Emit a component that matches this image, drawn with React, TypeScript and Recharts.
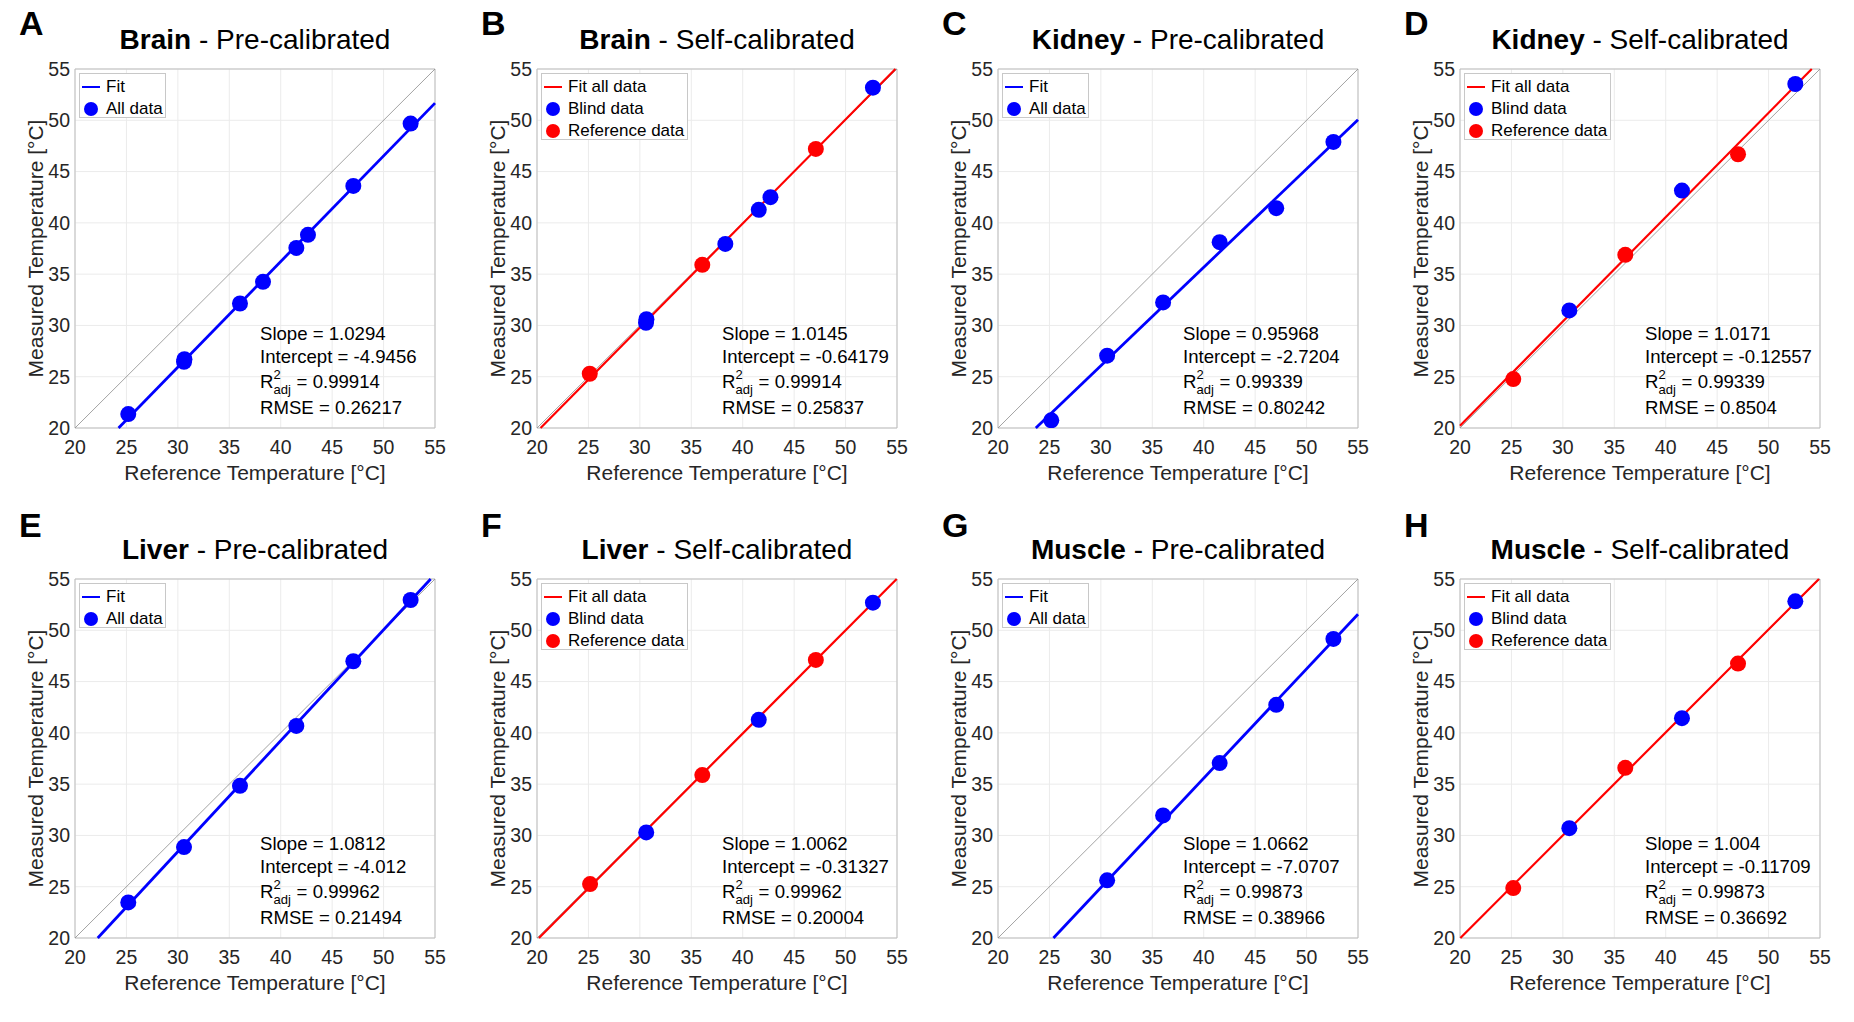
import { ScatterChart, Scatter, XAxis, YAxis, CartesianGrid, ReferenceLine, ReferenceArea } from 'recharts';

const BLUE = '#0000ff';
const RED = '#ff0000';
const FONT = '"Liberation Sans", Arial, Helvetica, sans-serif';
const AXIS_TEXT = '#262626';

const ticks = [20, 25, 30, 35, 40, 45, 50, 55];

// Brain
const brainPreX = [25.18, 30.6, 30.64, 36.04, 38.28, 41.52, 42.65, 47.06, 52.63];
const brainPreY = [21.36, 26.45, 26.7, 32.14, 34.25, 37.56, 38.83, 43.6, 49.68];
const brainBlindX = [30.6, 30.64, 38.31, 41.56, 42.7, 52.66];
const brainBlindY = [30.25, 30.6, 37.95, 41.27, 42.5, 53.18];
const brainRefX = [25.13, 36.07, 47.11];
const brainRefY = [25.29, 35.91, 47.21];
const brainPreFit = { slope: 1.0294, intercept: -4.9456, r2: 0.99914, rmse: 0.26217 };
const brainSelfFit = { slope: 1.0145, intercept: -0.64179, r2: 0.99914, rmse: 0.25837 };

// Kidney
const kidneyPreX = [25.18, 30.61, 36.05, 41.55, 47.05, 52.61];
const kidneyPreY = [20.75, 27.05, 32.24, 38.12, 41.43, 47.89];
const kidneyBlindX = [30.63, 41.58, 52.6];
const kidneyBlindY = [31.46, 43.15, 53.54];
const kidneyRefX = [25.18, 36.07, 47.03];
const kidneyRefY = [24.77, 36.88, 46.69];
const kidneyPreFit = { slope: 0.95968, intercept: -2.7204, r2: 0.99339, rmse: 0.80242 };
const kidneySelfFit = { slope: 1.0171, intercept: -0.12557, r2: 0.99339, rmse: 0.8504 };

// Liver
const liverPreX = [25.18, 30.6, 36.04, 41.52, 47.06, 52.63];
const liverPreY = [23.47, 28.86, 34.84, 40.68, 46.98, 52.95];
const liverBlindX = [30.62, 41.56, 52.66];
const liverBlindY = [30.29, 41.27, 52.69];
const liverRefX = [25.16, 36.07, 47.11];
const liverRefY = [25.26, 35.88, 47.11];
const liverPreFit = { slope: 1.0812, intercept: -4.012, r2: 0.99962, rmse: 0.21494 };
const liverSelfFit = { slope: 1.0062, intercept: -0.31327, r2: 0.99962, rmse: 0.20004 };

// Muscle
const musclePreX = [30.61, 36.05, 41.55, 47.05, 52.61];
const musclePreY = [25.62, 31.95, 37.05, 42.73, 49.16];
const muscleBlindX = [30.63, 41.58, 52.6];
const muscleBlindY = [30.71, 41.43, 52.82];
const muscleRefX = [25.18, 36.07, 47.03];
const muscleRefY = [24.87, 36.59, 46.75];
const musclePreFit = { slope: 1.0662, intercept: -7.0707, r2: 0.99873, rmse: 0.38966 };
const muscleSelfFit = { slope: 1.004, intercept: -0.11709, r2: 0.99873, rmse: 0.36692 };

type Fit = { slope: number; intercept: number; r2: number; rmse: number };
type Series = { x: number[]; y: number[]; color: string };
type LegendItem = { label: string; color: string; kind: 'line' | 'dot' };

// panel geometry
const W = 462;
const H = 505;
const PL = 75;
const PT = 69;
const PW = 360;
const PH = 359;

const toPoints = (x: number[], y: number[]) => x.map((v, i) => ({ x: v, y: y[i] }));

// clip y = m*x + b to the [20, 55] box
const fitSegment = (m: number, b: number) => {
  const x0 = Math.max(20, (20 - b) / m);
  const x1 = Math.min(55, (55 - b) / m);
  return [
    { x: x0, y: m * x0 + b },
    { x: x1, y: m * x1 + b },
  ];
};

const preLegend: LegendItem[] = [
  { label: 'Fit', color: BLUE, kind: 'line' },
  { label: 'All data', color: BLUE, kind: 'dot' },
];
const selfLegend: LegendItem[] = [
  { label: 'Fit all data', color: RED, kind: 'line' },
  { label: 'Blind data', color: BLUE, kind: 'dot' },
  { label: 'Reference data', color: RED, kind: 'dot' },
];

const Legend = ({ items, width }: { items: LegendItem[]; width: number }) => (
  <div
    style={{
      position: 'absolute',
      left: PL + 4,
      top: PT + 4,
      width,
      height: items.length * 22 + 1,
      border: '1px solid #c8c8c8',
      background: '#fff',
      boxSizing: 'border-box',
    }}
  >
    {items.map((it, i) => (
      <div
        key={it.label}
        style={{
          position: 'absolute',
          left: 0,
          top: 1.5 + 22 * i,
          height: 22,
          display: 'flex',
          alignItems: 'center',
          fontSize: 17,
          lineHeight: '22px',
          color: '#000',
          whiteSpace: 'nowrap',
        }}
      >
        <div style={{ width: 26, position: 'relative', height: 22 }}>
          {it.kind === 'line' ? (
            <div style={{ position: 'absolute', left: 2, top: 10, width: 18, height: 2.5, background: it.color }} />
          ) : (
            <div
              style={{ position: 'absolute', left: 4, top: 4, width: 14, height: 14, borderRadius: 7, background: it.color }}
            />
          )}
        </div>
        <span>{it.label}</span>
      </div>
    ))}
  </div>
);

const Stats = ({ fit }: { fit: Fit }) => {
  const F = 18.6;
  const line = (baseline: number, content: any) => (
    <div
      style={{
        position: 'absolute',
        left: PL + 185,
        top: baseline - 0.8465 * F,
        fontSize: F,
        lineHeight: `${F}px`,
        whiteSpace: 'nowrap',
        color: '#000',
      }}
    >
      {content}
    </div>
  );
  return (
    <>
      {line(PT + 272, `Slope = ${fit.slope}`)}
      {line(PT + 295, `Intercept = ${fit.intercept}`)}
      {line(
        PT + 320,
        <>
          R
          <span style={{ display: 'inline-block', position: 'relative', width: 18 }}>
            <span style={{ position: 'absolute', left: 0, top: -18.5, fontSize: 13, lineHeight: '10px' }}>2</span>
            <span style={{ position: 'absolute', left: 0, top: -3.1, fontSize: 13, lineHeight: '10px' }}>adj</span>
          </span>
          {` = ${fit.r2}`}
        </>
      )}
      {line(PT + 346, `RMSE = ${fit.rmse}`)}
    </>
  );
};

type PanelProps = {
  letter: string;
  organ: string;
  mode: string;
  left: number;
  top: number;
  letterY: number;
  series: Series[];
  fit: Fit;
  fitColor: string;
  fitWidth: number;
  legend: LegendItem[];
  legendWidth: number;
};

const Panel = (p: PanelProps) => {
  const seg = fitSegment(p.fit.slope, p.fit.intercept);
  return (
    <div style={{ position: 'absolute', left: p.left, top: p.top, width: W, height: H }}>
      <ScatterChart width={W} height={H} margin={{ top: PT, right: W - PL - PW, bottom: 0, left: 0 }}>
        <CartesianGrid stroke="#ebebeb" strokeWidth={1} />
        <XAxis
          type="number"
          dataKey="x"
          domain={[20, 55]}
          ticks={ticks}
          interval={0}
          allowDataOverflow
          axisLine={false}
          tickLine={false}
          tickSize={0}
          tickMargin={12}
          height={H - PT - PH}
          tick={{ fontSize: 19.5, fill: AXIS_TEXT }}
        />
        <YAxis
          type="number"
          dataKey="y"
          domain={[20, 55]}
          ticks={ticks}
          interval={0}
          allowDataOverflow
          axisLine={false}
          tickLine={false}
          tickSize={0}
          tickMargin={5}
          width={PL}
          tick={{ fontSize: 19.5, fill: AXIS_TEXT }}
        />
        <ReferenceArea x1={20} x2={55} y1={20} y2={55} fill="none" stroke="#bdbdbd" strokeWidth={1} ifOverflow="visible" />
        <ReferenceLine
          segment={[
            { x: 20, y: 20 },
            { x: 55, y: 55 },
          ]}
          stroke="#8c8c8c"
          strokeWidth={0.8}
          ifOverflow="visible"
        />
        <ReferenceLine segment={seg} stroke={p.fitColor} strokeWidth={p.fitWidth} ifOverflow="visible" />
        {p.series.map((s, i) => (
          <Scatter
            key={i}
            data={toPoints(s.x, s.y)}
            fill={s.color}
            isAnimationActive={false}
            shape={(props: any) => <circle cx={props.cx} cy={props.cy} r={8} fill={s.color} />}
          />
        ))}
      </ScatterChart>

      <div
        style={{
          position: 'absolute',
          left: PL - 56,
          top: p.letterY - 0.8465 * 34,
          fontSize: 34,
          lineHeight: '34px',
          fontWeight: 700,
          color: '#000',
        }}
      >
        {p.letter}
      </div>
      <div
        style={{
          position: 'absolute',
          left: PL + PW / 2 - 220,
          width: 440,
          top: 49.5 - 0.8465 * 28,
          fontSize: 28,
          lineHeight: '28px',
          textAlign: 'center',
          color: '#000',
          whiteSpace: 'nowrap',
        }}
      >
        <b>{p.organ}</b>
        {` - ${p.mode}`}
      </div>
      <div
        style={{
          position: 'absolute',
          left: PL + PW / 2 - 200,
          width: 400,
          top: 480 - 0.8465 * 21,
          fontSize: 21,
          lineHeight: '21px',
          textAlign: 'center',
          color: AXIS_TEXT,
          whiteSpace: 'nowrap',
        }}
      >
        Reference Temperature [°C]
      </div>
      <div
        style={{
          position: 'absolute',
          left: PL - 40 - 150,
          width: 300,
          top: PT + PH / 2 - 10.5,
          height: 21,
          fontSize: 21,
          lineHeight: '21px',
          textAlign: 'center',
          color: AXIS_TEXT,
          whiteSpace: 'nowrap',
          transform: 'rotate(-90deg)',
        }}
      >
        Measured Temperature [°C]
      </div>
      <Legend items={p.legend} width={p.legendWidth} />
      <Stats fit={p.fit} />
    </div>
  );
};

const colX = [0, 462, 923, 1385];
const rowY = [0, 510];

export default function App() {
  const pre = (x: number[], y: number[]): Series[] => [{ x, y, color: BLUE }];
  const self = (bx: number[], by: number[], rx: number[], ry: number[]): Series[] => [
    { x: bx, y: by, color: BLUE },
    { x: rx, y: ry, color: RED },
  ];
  const preProps = { fitColor: BLUE, fitWidth: 2.8, legend: preLegend, legendWidth: 87, mode: 'Pre-calibrated' };
  const selfProps = { fitColor: RED, fitWidth: 2.2, legend: selfLegend, legendWidth: 147, mode: 'Self-calibrated' };

  return (
    <div
      style={{
        position: 'absolute',
        left: 0,
        top: 0,
        width: 1854,
        height: 1022,
        background: '#fff',
        fontFamily: FONT,
        overflow: 'hidden',
      }}
    >
      <Panel letter="A" organ="Brain" left={colX[0]} top={rowY[0]} letterY={35} series={pre(brainPreX, brainPreY)} fit={brainPreFit} {...preProps} />
      <Panel letter="B" organ="Brain" left={colX[1]} top={rowY[0]} letterY={35} series={self(brainBlindX, brainBlindY, brainRefX, brainRefY)} fit={brainSelfFit} {...selfProps} />
      <Panel letter="C" organ="Kidney" left={colX[2]} top={rowY[0]} letterY={35} series={pre(kidneyPreX, kidneyPreY)} fit={kidneyPreFit} {...preProps} />
      <Panel letter="D" organ="Kidney" left={colX[3]} top={rowY[0]} letterY={35} series={self(kidneyBlindX, kidneyBlindY, kidneyRefX, kidneyRefY)} fit={kidneySelfFit} {...selfProps} />
      <Panel letter="E" organ="Liver" left={colX[0]} top={rowY[1]} letterY={27} series={pre(liverPreX, liverPreY)} fit={liverPreFit} {...preProps} />
      <Panel letter="F" organ="Liver" left={colX[1]} top={rowY[1]} letterY={27} series={self(liverBlindX, liverBlindY, liverRefX, liverRefY)} fit={liverSelfFit} {...selfProps} />
      <Panel letter="G" organ="Muscle" left={colX[2]} top={rowY[1]} letterY={27} series={pre(musclePreX, musclePreY)} fit={musclePreFit} {...preProps} />
      <Panel letter="H" organ="Muscle" left={colX[3]} top={rowY[1]} letterY={27} series={self(muscleBlindX, muscleBlindY, muscleRefX, muscleRefY)} fit={muscleSelfFit} {...selfProps} />
    </div>
  );
}
